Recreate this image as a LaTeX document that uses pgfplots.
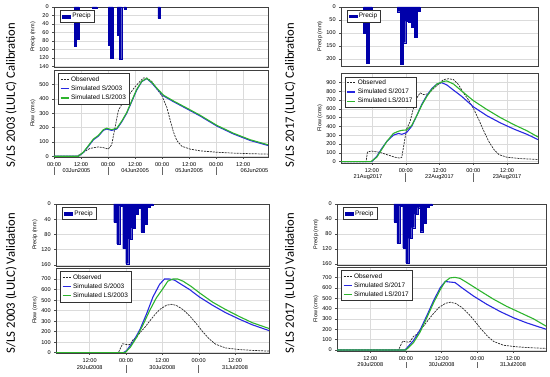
\documentclass[border=0pt]{standalone}
\usepackage{fontspec}
\setmainfont{Liberation Sans}
\newfontfamily\calfont{Carlito}
\usepackage{pgfplots}
\pgfplotsset{compat=1.18}
\definecolor{precip}{RGB}{0,0,170}
\definecolor{simblue}{RGB}{40,40,225}
\definecolor{simgreen}{RGB}{45,180,45}
\tikzset{
 datel/.style={font=\fontsize{5.6}{6}\selectfont, inner sep=0pt},
 sepl/.style={draw=black!60, line width=0.5bp},
}
\pgfplotsset{
 base/.style={scale only axis, anchor=south west, clip mode=individual,
   axis line style={draw=black!75, line width=0.7bp},
   tick style={draw=black!70, line width=0.4bp}, major tick length=1.8bp, tick align=outside,
   xtick pos=bottom, ytick pos=left,
   ticklabel style={font=\fontsize{5.6}{6}\selectfont},
   /pgf/number format/assume math mode=true,
   grid style={draw=black!14, line width=0.4bp},
   ylabel style={font=\fontsize{5.5}{6}\selectfont}, ylabel shift=-3bp,
   legend cell align=left,
 },
 precipax/.style={base, y dir=reverse, ymin=0, xtick=\empty, ymajorgrids, ylabel={Precip (mm)},
   legend style={at={(0.03,0.95)}, anchor=north west, draw=black!80, line width=0.6bp,
     font=\fontsize{6.5}{7}\selectfont, inner xsep=1.5bp, inner ysep=1bp},
 },
 flowax/.style={base, xmajorgrids, ymajorgrids, ylabel={Flow (cms)},
   legend style={at={(0.02,0.96)}, anchor=north west, draw=black!80, line width=0.6bp,
     font=\fontsize{6.5}{7}\selectfont, inner xsep=1.5bp, inner ysep=0.8bp, row sep=-1bp},
   legend image code/.code={\draw[##1] (0bp,0bp) -- (8bp,0bp);},
 },
 pbar/.style={ybar, bar width=1, bar shift=0pt, fill=precip, draw=precip, line width=0.1bp,
   legend image code/.code={\fill[precip] (0bp,-1.2bp) rectangle (8bp,1.5bp);}},
 obs/.style={draw=black!85, line width=0.7bp, dash pattern=on 2bp off 1bp, mark=none},
 simb/.style={draw=simblue, line width=1.1bp, mark=none},
 simg/.style={draw=simgreen, line width=1.1bp, mark=none},
}
\begin{document}
\begin{tikzpicture}
\path[use as bounding box] (0,0) rectangle (550bp,377bp);

% row labels
\node[rotate=90, font=\calfont\fontsize{12.7}{14}\selectfont] at (11bp,282bp) {S/LS 2003 (LULC) Calibration};
\node[rotate=90, font=\calfont\fontsize{12.7}{14}\selectfont] at (11bp,94bp) {S/LS 2003 (LULC) Validation};
\node[rotate=90, font=\calfont\fontsize{12.7}{14}\selectfont] at (290bp,282bp) {S/LS 2017 (LULC) Calibration};
\node[rotate=90, font=\calfont\fontsize{12.7}{14}\selectfont] at (290bp,94bp) {S/LS 2017 (LULC) Validation};

% ===== Panel 1 =====
\begin{axis}[precipax, at={(54bp,310bp)}, width=214bp, height=60bp, xmin=0, xmax=95, ymax=141, ytick={0,20,...,140}]
\addplot[pbar] coordinates {(9.5,92) (10.6,75) (17.5,3) (18.5,3) (24.6,90) (25.6,121) (28.6,67) (29.5,123) (31.5,5) (46.6,27)};
\addlegendentry{Precip}
\end{axis}
\begin{axis}[flowax, at={(54bp,220bp)}, width=214bp, height=87bp, xmin=0, xmax=95, ymin=-5, ymax=600,
  ytick={0,100,...,500}, xtick={0,12,...,84}, xticklabels={00:00,12:00,00:00,12:00,00:00,12:00,00:00,12:00}]
\addplot[obs] coordinates {(0,0) (10,0) (12.3,20) (16,55) (19.7,65) (21.9,60) (24.1,50) (25.6,80) (27.1,200) (28.6,320) (30.8,380) (33,420) (35.3,470) (37.5,510) (39.7,545) (41.2,545) (43.4,520) (45.6,470) (47.9,420) (50.1,340) (51.6,250) (53,170) (54.5,110) (56.7,70) (60.4,50) (64.9,38) (72.3,28) (79.7,22) (87.1,18) (95,15)};
\addlegendentry{Observed}
\addplot[simb] coordinates {(0,0) (10.8,0) (13,25) (15.3,70) (17.5,115) (19.7,140) (21.9,180) (23.4,190) (25.6,180) (27.9,190) (30.1,240) (32.3,300) (34.5,380) (36.7,460) (39,520) (41.2,540) (43.4,510) (45.6,470) (48.6,420) (53,380) (59,330) (64.9,280) (72.3,210) (79.7,155) (87.1,110) (95,75)};
\addlegendentry{Simulated S/2003}
\addplot[simg] coordinates {(0,0) (10.8,0) (13,28) (15.3,75) (17.5,120) (19.7,145) (21.9,185) (23.4,195) (25.6,185) (27.9,195) (30.1,245) (32.3,305) (34.5,385) (36.7,465) (39,522) (41.2,542) (43.4,515) (45.6,475) (48.6,425) (53,385) (59,335) (64.9,285) (72.3,215) (79.7,160) (87.1,115) (95,80)};
\addlegendentry{Simulated LS/2003}
\node[datel, yshift=-14bp] at (axis cs:10,-5) {03Jun2005};
\node[datel, yshift=-14bp] at (axis cs:36,-5) {04Jun2005};
\node[datel, yshift=-14bp] at (axis cs:60,-5) {05Jun2005};
\node[datel, yshift=-14bp] at (axis cs:89,-5) {06Jun2005};
\pgfplotsinvokeforeach{0,24,48,72}{\draw[sepl] ([yshift=-10bp]axis cs:#1,-5) -- ([yshift=-18bp]axis cs:#1,-5);}
\end{axis}

% ===== Panel 2 =====
\begin{axis}[precipax, at={(341bp,311bp)}, width=197bp, height=59bp, xmin=1, xmax=71, ymax=228, ytick={0,50,...,200}]
\addplot[pbar] coordinates {(9.5,100) (10.5,218) (11.5,13) (21.5,18) (22.5,222) (23.5,138) (24.5,55) (25.5,58) (26.5,77) (27.5,118) (28.5,15)};
\addlegendentry{Precip}
\end{axis}
\begin{axis}[flowax, at={(341bp,214bp)}, width=197bp, height=90bp, xmin=1, xmax=71, ymin=-15, ymax=1005,
  ytick={0,100,...,900}, xtick={12,24,36,48,60}, xticklabels={12:00,00:00,12:00,00:00,12:00}]
\addplot[obs] coordinates {(1,0) (9.9,0) (10.4,110) (11.9,120) (14.9,105) (17.8,75) (20.2,50) (22.0,40) (22.6,50) (23.4,200) (24.3,370) (25.5,450) (26.7,600) (27.9,720) (29.1,780) (30.3,760) (32.1,770) (33.9,830) (35.7,880) (37.4,930) (39.2,940) (41.0,930) (42.8,870) (44.5,780) (46.3,700) (48.1,600) (49.9,480) (51.7,350) (53.5,230) (55.3,140) (57.1,80) (60.0,50) (64.7,35) (71,25)};
\addlegendentry{Observed}
\addplot[simb] coordinates {(1,0) (11.9,0) (13.7,60) (15.5,150) (17.3,230) (19.6,300) (21.4,320) (22.6,310) (24.3,330) (26.1,400) (27.9,520) (29.7,650) (31.5,750) (33.3,830) (35.1,880) (36.8,895) (38.6,870) (41.0,810) (43.9,740) (48.1,620) (52.9,520) (57.6,440) (62.4,370) (67.1,310) (71,250)};
\addlegendentry{Simulated S/2017}
\addplot[simg] coordinates {(1,0) (11.6,0) (13.7,50) (15.5,140) (17.3,230) (19.6,320) (21.4,345) (22.6,355) (24.3,360) (26.1,410) (27.9,520) (29.7,640) (31.5,740) (33.3,820) (35.1,880) (37.4,910) (38.6,915) (41.0,880) (43.9,800) (48.1,690) (52.9,590) (57.6,500) (62.4,420) (67.1,350) (71,280)};
\addlegendentry{Simulated LS/2017}
\node[datel, yshift=-14bp] at (axis cs:10.6,-15) {21Aug2017};
\node[datel, yshift=-14bp] at (axis cs:36,-15) {22Aug2017};
\node[datel, yshift=-14bp] at (axis cs:60,-15) {23Aug2017};
\pgfplotsinvokeforeach{24,48}{\draw[sepl] ([yshift=-10bp]axis cs:#1,-15) -- ([yshift=-19bp]axis cs:#1,-15);}
\end{axis}

% ===== Panel 3 =====
\begin{axis}[precipax, at={(56bp,111bp)}, width=213bp, height=62bp, xmin=0.9, xmax=71.2, ymax=163, ytick={0,40,...,160}]
\addplot[pbar] coordinates {(20.4,48) (21.4,105) (22.4,5) (23.4,117) (24.4,157) (25.4,92) (26.4,63) (27.4,27) (28.4,10) (29.4,74) (30.4,52) (31.4,8) (32.4,3)};
\addlegendentry{Precip}
\end{axis}
\begin{axis}[flowax, at={(56bp,24bp)}, width=213bp, height=85bp, xmin=0.9, xmax=71.2, ymin=-3, ymax=805,
  ytick={0,100,...,700}, xtick={12,24,36,48,60}, xticklabels={12:00,00:00,12:00,00:00,12:00}]
\addplot[obs] coordinates {(0.9,0) (21.5,0) (22.3,50) (22.9,85) (23.7,80) (24.8,75) (25.4,80) (26.5,130) (27.6,150) (28.6,190) (30.2,240) (31.8,300) (33.5,360) (35.1,410) (37.3,450) (38.9,460) (40.6,450) (42.8,410) (45,350) (47.1,280) (49.3,200) (51.5,130) (53.6,80) (56.9,45) (61.3,30) (65.7,22) (71.2,15)};
\addlegendentry{Observed}
\addplot[simb] coordinates {(0.9,0) (23.1,0) (24.2,20) (26.5,110) (28.6,220) (30.8,370) (32.9,530) (35.1,650) (36.7,700) (38.4,700) (40,690) (42.2,650) (45,600) (48.2,530) (52.6,450) (56.9,380) (61.3,320) (65.7,265) (71.2,210)};
\addlegendentry{Simulated S/2003}
\addplot[simg] coordinates {(0.9,0) (23.7,0) (25.4,50) (27.6,150) (29.7,270) (31.8,400) (34,520) (36.2,610) (37.8,680) (39.5,700) (41.1,700) (42.8,680) (45.5,630) (48.2,570) (52.6,480) (56.9,410) (61.3,345) (65.7,285) (71.2,230)};
\addlegendentry{Simulated LS/2003}
\node[datel, yshift=-15bp] at (axis cs:12,-3) {29Jul2008};
\node[datel, yshift=-15bp] at (axis cs:36,-3) {30Jul2008};
\node[datel, yshift=-15bp] at (axis cs:60,-3) {31Jul2008};
\pgfplotsinvokeforeach{24,48}{\draw[sepl] ([yshift=-12bp]axis cs:#1,-3) -- ([yshift=-20bp]axis cs:#1,-3);}
\end{axis}

% ===== Panel 4 =====
\begin{axis}[precipax, at={(337bp,112bp)}, width=209bp, height=61bp, xmin=0.8, xmax=71.1, ymax=163, ytick={0,40,...,160}]
\addplot[pbar] coordinates {(20.4,48) (21.4,105) (22.4,5) (23.4,117) (24.4,157) (25.4,92) (26.4,63) (27.4,27) (28.4,10) (29.4,74) (30.4,52) (31.4,8) (32.4,3)};
\addlegendentry{Precip}
\end{axis}
\begin{axis}[flowax, at={(337bp,26bp)}, width=209bp, height=84bp, xmin=0.8, xmax=71.1, ymin=-10, ymax=800,
  ytick={0,100,...,700}, xtick={12,24,36,48,60}, xticklabels={12:00,00:00,12:00,00:00,12:00}]
\addplot[obs] coordinates {(0.8,0) (21.5,0) (22.3,50) (22.9,85) (23.7,80) (24.8,75) (25.4,80) (26.5,130) (27.6,150) (28.6,190) (30.2,240) (31.8,300) (33.5,360) (35.1,410) (37.3,450) (38.9,460) (40.6,450) (42.8,410) (45,350) (47.1,280) (49.3,200) (51.5,130) (53.6,80) (56.9,45) (61.3,30) (65.7,22) (71.1,15)};
\addlegendentry{Observed}
\addplot[simb] coordinates {(0.8,0) (23.7,0) (26.5,90) (28.7,190) (31,330) (33.2,470) (35.5,600) (37.2,660) (38.8,655) (40.5,650) (42.8,600) (46.7,520) (51.2,440) (55.7,370) (60.2,310) (64.7,260) (71.1,200)};
\addlegendentry{Simulated S/2017}
\addplot[simg] coordinates {(0.8,0) (24,0) (26.5,70) (28.7,170) (31,310) (33.2,450) (35.5,580) (37.2,660) (38.8,695) (40.5,700) (42.2,690) (44.5,650) (48.9,570) (53.4,490) (57.9,420) (62.4,360) (66.9,300) (71.1,230)};
\addlegendentry{Simulated LS/2017}
\node[datel, yshift=-13.3bp] at (axis cs:12,-10) {29Jul2008};
\node[datel, yshift=-13.3bp] at (axis cs:36,-10) {30Jul2008};
\node[datel, yshift=-13.3bp] at (axis cs:60,-10) {31Jul2008};
\pgfplotsinvokeforeach{24,48}{\draw[sepl] ([yshift=-11bp]axis cs:#1,-10) -- ([yshift=-17bp]axis cs:#1,-10);}
\end{axis}
\end{tikzpicture}
\end{document}
